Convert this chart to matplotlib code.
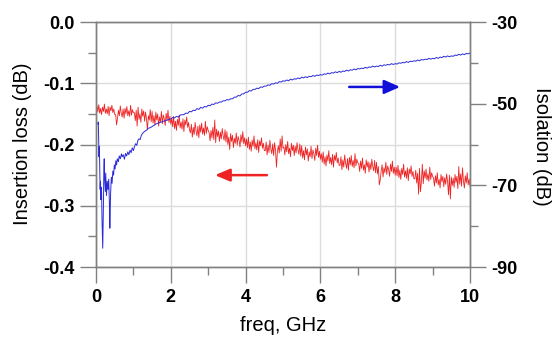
import numpy as np
import matplotlib
matplotlib.use('Agg')
import matplotlib.pyplot as plt
from matplotlib.ticker import MultipleLocator, FixedLocator

plt.rcParams['font.family'] = ['Liberation Sans', 'DejaVu Sans']

# insertion loss sweep, 0.025 - 10 GHz, 0.025 GHz step
loss_freq = np.linspace(0.025, 10.0, 400)
loss_db = [
    -0.137, -0.147, -0.135, -0.149, -0.141, -0.151, -0.139, -0.146, -0.134, -0.149,
    -0.142, -0.150, -0.138, -0.153, -0.139, -0.145, -0.136, -0.148, -0.142, -0.151,
    -0.151, -0.168, -0.157, -0.144, -0.153, -0.137, -0.149, -0.155, -0.142, -0.157,
    -0.141, -0.150, -0.138, -0.153, -0.145, -0.154, -0.136, -0.152, -0.143, -0.148,
    -0.148, -0.161, -0.144, -0.170, -0.139, -0.159, -0.150, -0.164, -0.142, -0.154,
    -0.145, -0.162, -0.147, -0.158, -0.176, -0.153, -0.160, -0.143, -0.163, -0.146,
    -0.165, -0.153, -0.168, -0.147, -0.160, -0.150, -0.170, -0.155, -0.163, -0.146,
    -0.166, -0.152, -0.158, -0.169, -0.149, -0.161, -0.144, -0.164, -0.154, -0.167,
    -0.157, -0.171, -0.154, -0.174, -0.162, -0.177, -0.159, -0.169, -0.152, -0.173,
    -0.163, -0.175, -0.158, -0.179, -0.160, -0.168, -0.155, -0.172, -0.164, -0.176,
    -0.181, -0.167, -0.188, -0.172, -0.184, -0.164, -0.178, -0.186, -0.170, -0.189,
    -0.168, -0.180, -0.165, -0.183, -0.173, -0.185, -0.162, -0.182, -0.171, -0.177,
    -0.181, -0.194, -0.177, -0.189, -0.172, -0.192, -0.160, -0.197, -0.175, -0.187,
    -0.178, -0.195, -0.180, -0.191, -0.174, -0.186, -0.193, -0.176, -0.196, -0.179,
    -0.200, -0.188, -0.208, -0.182, -0.195, -0.185, -0.205, -0.190, -0.198, -0.181,
    -0.201, -0.187, -0.193, -0.204, -0.184, -0.196, -0.179, -0.199, -0.189, -0.202,
    -0.191, -0.205, -0.188, -0.208, -0.196, -0.211, -0.193, -0.203, -0.186, -0.207,
    -0.197, -0.209, -0.192, -0.213, -0.194, -0.202, -0.189, -0.206, -0.198, -0.210,
    -0.210, -0.196, -0.217, -0.201, -0.213, -0.193, -0.207, -0.215, -0.199, -0.218,
    -0.197, -0.209, -0.237, -0.212, -0.202, -0.214, -0.191, -0.211, -0.186, -0.206,
    -0.204, -0.217, -0.200, -0.212, -0.195, -0.215, -0.206, -0.220, -0.198, -0.210,
    -0.201, -0.218, -0.203, -0.214, -0.197, -0.209, -0.216, -0.199, -0.219, -0.202,
    -0.222, -0.210, -0.225, -0.204, -0.217, -0.207, -0.227, -0.212, -0.220, -0.203,
    -0.223, -0.209, -0.215, -0.226, -0.206, -0.218, -0.201, -0.221, -0.211, -0.224,
    -0.215, -0.229, -0.212, -0.232, -0.220, -0.235, -0.217, -0.227, -0.210, -0.231,
    -0.221, -0.233, -0.216, -0.237, -0.218, -0.226, -0.213, -0.230, -0.222, -0.234,
    -0.234, -0.220, -0.241, -0.225, -0.237, -0.217, -0.231, -0.239, -0.223, -0.242,
    -0.221, -0.233, -0.218, -0.236, -0.226, -0.238, -0.215, -0.235, -0.224, -0.230,
    -0.231, -0.244, -0.227, -0.239, -0.222, -0.242, -0.233, -0.247, -0.225, -0.237,
    -0.228, -0.245, -0.230, -0.241, -0.224, -0.236, -0.243, -0.226, -0.246, -0.229,
    -0.248, -0.236, -0.266, -0.258, -0.243, -0.233, -0.253, -0.238, -0.246, -0.229,
    -0.249, -0.235, -0.241, -0.252, -0.232, -0.244, -0.227, -0.247, -0.237, -0.250,
    -0.237, -0.251, -0.234, -0.254, -0.242, -0.257, -0.239, -0.249, -0.232, -0.253,
    -0.243, -0.255, -0.238, -0.259, -0.240, -0.248, -0.235, -0.252, -0.244, -0.256,
    -0.256, -0.242, -0.263, -0.247, -0.281, -0.239, -0.277, -0.261, -0.232, -0.264,
    -0.243, -0.255, -0.240, -0.258, -0.248, -0.260, -0.237, -0.257, -0.246, -0.252,
    -0.255, -0.268, -0.251, -0.263, -0.246, -0.266, -0.257, -0.271, -0.249, -0.261,
    -0.252, -0.269, -0.254, -0.265, -0.248, -0.260, -0.282, -0.250, -0.289, -0.253,
    -0.267, -0.255, -0.270, -0.249, -0.262, -0.252, -0.272, -0.236, -0.265, -0.248,
    -0.268, -0.238, -0.260, -0.271, -0.251, -0.263, -0.246, -0.266, -0.256, -0.268,
]

# isolation: dense points below 2 GHz, then 0.05 GHz step
iso_freq_low = [
    0.05, 0.06, 0.07, 0.08, 0.09, 0.10, 0.11, 0.12, 0.13, 0.14,
    0.15, 0.16, 0.18, 0.20, 0.21, 0.22, 0.23, 0.25, 0.26, 0.28,
    0.30, 0.32, 0.34, 0.36, 0.37, 0.39, 0.41, 0.43, 0.45, 0.47,
    0.49, 0.51, 0.53, 0.55, 0.57, 0.60, 0.62, 0.65, 0.68, 0.70,
    0.73, 0.76, 0.79, 0.82, 0.85, 0.88, 0.91, 0.94, 0.97, 1.00,
    1.03, 1.06, 1.09, 1.12, 1.15, 1.18, 1.21, 1.25, 1.30, 1.35,
    1.40, 1.45, 1.50, 1.55, 1.60, 1.65, 1.70, 1.75, 1.80, 1.85,
    1.90, 1.95, 2.00,
]
iso_db_low = [
    -55.0, -54.5, -58.0, -63.0, -60.5, -66.0, -71.0, -69.0, -73.5, -70.5,
    -72.0, -78.0, -85.4, -74.0, -66.0, -63.5, -68.0, -71.5, -67.0, -72.5,
    -69.0, -71.0, -68.5, -75.0, -80.5, -72.0, -68.0, -69.5, -66.5, -67.5,
    -65.0, -66.0, -64.0, -65.0, -63.5, -64.2, -62.8, -63.5, -62.3, -63.0,
    -62.5, -63.6, -62.2, -62.8, -61.8, -62.5, -61.4, -62.0, -60.8, -61.5,
    -60.5, -59.8, -60.2, -59.0, -58.6, -58.8, -57.8, -57.2, -56.8, -56.5,
    -56.0, -55.9, -55.6, -55.3, -55.0, -54.8, -54.6, -54.5, -54.3, -54.2,
    -54.0, -53.9, -53.7,
]
iso_db_high = [
    -53.4, -53.5, -53.1, -53.3, -52.8, -52.7, -52.7, -52.3, -52.4, -51.9,
    -52.0, -51.6, -51.7, -51.2, -51.4, -50.9, -51.1, -50.7, -50.8, -50.4,
    -50.5, -50.1, -50.2, -49.8, -49.9, -49.6, -49.6, -49.3, -49.3, -49.0,
    -49.1, -48.8, -48.8, -48.4, -48.4, -48.0, -48.1, -47.6, -47.6, -47.2,
    -47.2, -46.8, -46.9, -46.5, -46.5, -46.2, -46.3, -45.9, -46.0, -45.7,
    -45.7, -45.4, -45.5, -45.1, -45.2, -44.9, -45.0, -44.6, -44.7, -44.4,
    -44.5, -44.2, -44.4, -44.0, -44.2, -43.9, -44.0, -43.7, -43.9, -43.5,
    -43.7, -43.4, -43.6, -43.3, -43.4, -43.1, -43.3, -43.0, -43.1, -42.9,
    -43.0, -42.7, -42.8, -42.5, -42.7, -42.4, -42.5, -42.2, -42.4, -42.1,
    -42.3, -42.0, -42.1, -41.8, -42.0, -41.7, -41.8, -41.5, -41.7, -41.4,
    -41.5, -41.3, -41.4, -41.1, -41.3, -41.0, -41.1, -40.8, -41.0, -40.8,
    -40.9, -40.6, -40.8, -40.5, -40.6, -40.4, -40.5, -40.2, -40.4, -40.2,
    -40.3, -40.0, -40.1, -39.9, -40.0, -39.7, -39.9, -39.6, -39.7, -39.5,
    -39.6, -39.3, -39.5, -39.2, -39.3, -39.1, -39.2, -38.9, -39.1, -38.9,
    -39.0, -38.7, -38.9, -38.6, -38.7, -38.4, -38.6, -38.3, -38.5, -38.3,
    -38.4, -38.1, -38.2, -37.9, -38.1, -37.8, -38.0, -37.7, -37.8, -37.6,
]
iso_freq = np.concatenate([iso_freq_low, np.linspace(2.05, 10.0, 160)])
iso_db = np.concatenate([iso_db_low, iso_db_high])

gray = '#808080'
red = '#ee2424'
blue = '#2a2ad8'

fig = plt.figure(figsize=(5.53, 3.37), dpi=100)
ax = fig.add_axes([0.1736, 0.2077, 0.6763, 0.727])
ax2 = ax.twinx()

ax.plot(loss_freq, loss_db, color=red, lw=0.6)
ax2.plot(iso_freq, iso_db, color=blue, lw=0.7)

ax.set_xlim(0, 10)
ax.set_ylim(-0.4, 0.0)
ax2.set_ylim(-90, -30)

ax.xaxis.set_major_locator(MultipleLocator(2))
ax.xaxis.set_minor_locator(MultipleLocator(1))
ax.yaxis.set_major_locator(MultipleLocator(0.1))
ax.yaxis.set_minor_locator(MultipleLocator(0.05))
ax2.yaxis.set_major_locator(FixedLocator([-90, -70, -50, -30]))
ax2.yaxis.set_minor_locator(FixedLocator([-80, -60, -40]))

ax.xaxis.set_major_formatter(lambda v, p: f'{v:.0f}')
ax.yaxis.set_major_formatter(lambda v, p: f'{v:.1f}')
ax2.yaxis.set_major_formatter(lambda v, p: f'{v:.0f}')

ax.grid(which='major', color='#dcdcdc', lw=1.0)
ax.set_axisbelow(True)

for a in (ax, ax2):
    for sp in a.spines.values():
        sp.set_color(gray)
        sp.set_linewidth(1.0)
    a.tick_params(which='major', direction='out', length=11.5, width=1.0,
                  color=gray, labelsize=13, pad=4)
    a.tick_params(which='minor', direction='out', length=5.5, width=1.0,
                  color=gray)
    for lab in a.get_xticklabels() + a.get_yticklabels():
        lab.set_fontweight('bold')

# direction arrows pointing at each series' axis
ax.annotate('', xy=(3.18, -0.25), xytext=(4.57, -0.25),
            arrowprops=dict(arrowstyle='-|>,head_length=0.9,head_width=0.38',
                            color=red, lw=1.8, shrinkA=0, shrinkB=0,
                            mutation_scale=10))
ax2.annotate('', xy=(8.13, -45.9), xytext=(6.77, -45.9),
             arrowprops=dict(arrowstyle='-|>,head_length=0.95,head_width=0.42',
                             color='#1010d8', lw=1.8, shrinkA=0, shrinkB=0,
                             mutation_scale=10))

fig.text(0.0398, 0.574, 'Insertion loss (dB)', rotation=90,
         ha='center', va='center', fontsize=14.5)
fig.text(0.9796, 0.565, 'Isolation (dB)', rotation=270,
         ha='center', va='center', fontsize=14.5)
fig.text(0.5127, 0.033, 'freq, GHz', ha='center', va='center', fontsize=14.5)

fig.savefig('out.png', dpi=100)
